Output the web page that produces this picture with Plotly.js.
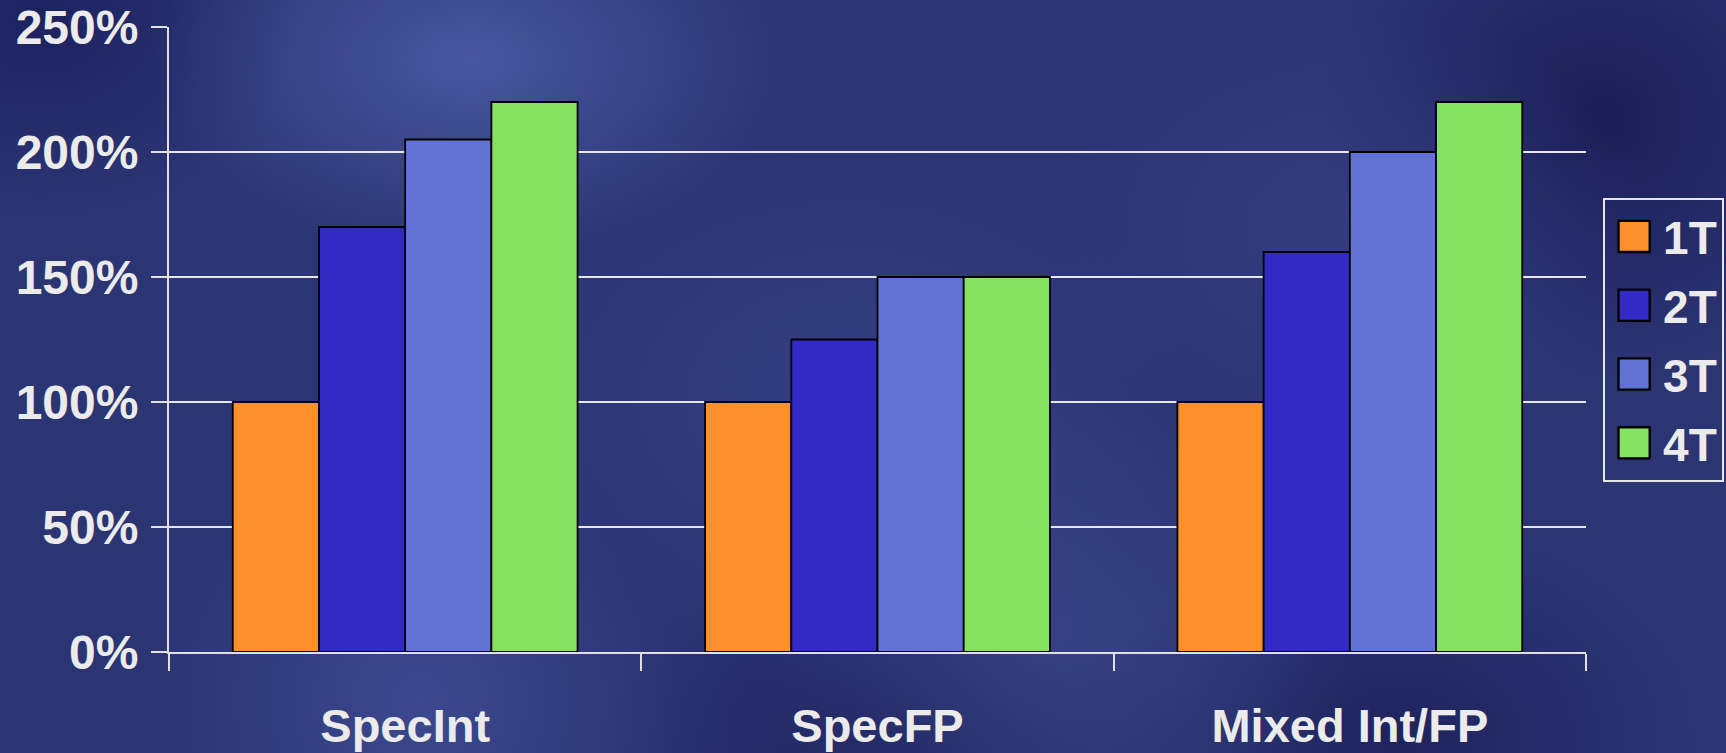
<!DOCTYPE html>
<html>
<head>
<meta charset="utf-8">
<script src="https://cdn.plot.ly/plotly-3.0.1.min.js"></script>
<style>
html,body{margin:0;padding:0;width:1726px;height:753px;overflow:hidden;}
body{
  background:
    radial-gradient(ellipse 320px 200px at 470px 60px, rgba(80,98,175,0.75), rgba(80,98,175,0) 100%),
    radial-gradient(ellipse 260px 260px at 420px 700px, rgba(70,86,160,0.6), rgba(70,86,160,0) 100%),
    radial-gradient(ellipse 300px 250px at 1050px 640px, rgba(66,80,150,0.55), rgba(66,80,150,0) 100%),
    radial-gradient(ellipse 350px 250px at 850px 400px, rgba(60,74,145,0.5), rgba(60,74,145,0) 100%),
    radial-gradient(ellipse 300px 220px at 1350px 230px, rgba(60,72,140,0.45), rgba(60,72,140,0) 100%),
    radial-gradient(ellipse 280px 260px at 1600px 120px, rgba(22,24,80,0.8), rgba(22,24,80,0) 100%),
    radial-gradient(ellipse 260px 200px at 40px 20px, rgba(25,30,90,0.8), rgba(25,30,90,0) 100%),
    radial-gradient(ellipse 300px 200px at 900px 740px, rgba(25,28,85,0.7), rgba(25,28,85,0) 100%),
    radial-gradient(ellipse 300px 220px at 1400px 740px, rgba(25,28,85,0.7), rgba(25,28,85,0) 100%),
    #2c3574;
}
#chart{width:1726px;height:753px;}
</style>
</head>
<body>
<div id="chart"></div>
<script>
var categories = ["SpecInt", "SpecFP", "Mixed Int/FP"];
var seriesNames = ["1T", "2T", "3T", "4T"];
var values1T = [100, 100, 100];
var values2T = [170, 125, 160];
var values3T = [205, 150, 200];
var values4T = [220, 150, 220];
var yTickVals = [0, 50, 100, 150, 200, 250];
var yTickText = ["0%", "50%", "100%", "150%", "200%", "250%"];

var colors = ["#FF8F2B", "#3229C6", "#6174D6", "#86E062"];
var allValues = [values1T, values2T, values3T, values4T];

var traces = allValues.map(function(v, i){
  return {
    type: "bar",
    name: seriesNames[i],
    x: categories,
    y: v,
    legendgroup: "g" + i,
    marker: {color: colors[i], line: {color: "#000000", width: 1.8}},
    hoverinfo: "none"
  };
});

var textColor = "#EBEBEB";
var fam = "Liberation Sans, Arial, sans-serif";

var layout = {
  width: 1726, height: 753,
  paper_bgcolor: "rgba(0,0,0,0)",
  plot_bgcolor: "rgba(0,0,0,0)",
  margin: {l: 169, r: 140, t: 27, b: 101, pad: 0, autoexpand: false},
  barmode: "group",
  bargap: 0.27,
  bargroupgap: 0,
  showlegend: true,
  legend: {
    xref: "container", yref: "container",
    x: 0.9288, xanchor: "left", y: 0.737, yanchor: "top",
    bgcolor: "rgba(0,0,0,0)",
    bordercolor: "#E6E6E6", borderwidth: 2,
    font: {family: fam, size: 46, color: textColor, weight: "bold"},
    traceorder: "grouped", tracegroupgap: 6,
    itemwidth: 48
  },
  xaxis: {
    type: "category",
    showline: true, linecolor: "#E0E0E0", linewidth: 2,
    ticks: "outside", tickson: "boundaries", ticklen: 17, tickcolor: "#E0E0E0", tickwidth: 2,
    tickfont: {family: fam, size: 47, color: textColor, weight: "bold"},
    ticklabelstandoff: 32,
    showgrid: false, zeroline: false, fixedrange: true
  },
  yaxis: {
    range: [0, 250],
    tickvals: yTickVals, ticktext: yTickText,
    showline: true, linecolor: "#E0E0E0", linewidth: 2,
    ticks: "outside", ticklen: 16, tickcolor: "#E0E0E0", tickwidth: 2,
    showgrid: true, gridcolor: "#E6E6E6", gridwidth: 2,
    zeroline: false,
    tickfont: {family: fam, size: 48, color: textColor, weight: "bold"},
    ticklabelstandoff: 3,
    fixedrange: true
  }
};

Plotly.newPlot("chart", traces, layout, {displayModeBar: false, staticPlot: true}).then(function(){
  document.querySelectorAll("#chart .legend .legendpoints path").forEach(function(p){
    var t = p.getAttribute("transform") || "";
    p.setAttribute("transform", t + " scale(2.6)");
    p.style.strokeWidth = "0.9px";
  });
});
</script>
</body>
</html>
